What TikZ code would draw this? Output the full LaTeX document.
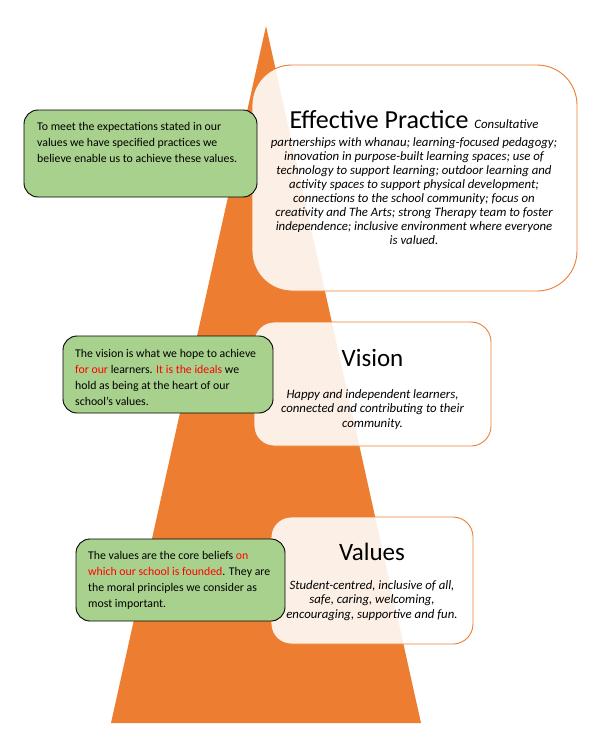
\documentclass[tikz,border=0pt]{standalone}
\usepackage{fontspec}
\setmainfont{Carlito}
\definecolor{orng}{HTML}{ED7D31}
\definecolor{grn}{HTML}{A9D18E}
\definecolor{redtxt}{HTML}{FF0000}
\newcommand{\rd}[1]{\textcolor{redtxt}{#1}}
\tikzset{
  whitebox/.style={draw=orng, line width=0.9pt, fill=white, fill opacity=0.88, text opacity=1},
  greenbox/.style={draw=black, line width=0.9pt, fill=grn, rounded corners=14pt},
  gtext/.style={anchor=base west, inner sep=0pt, align=left, font=\fontsize{11.8}{16}\selectfont},
  btext/.style={anchor=base, inner sep=0pt, align=center, font=\fontsize{12.8}{14.1}\selectfont\itshape},
  ttext/.style={anchor=base, inner sep=0pt, font=\fontsize{25}{30}\selectfont},
}
\begin{document}
\begin{tikzpicture}[x=1pt,y=-1pt]
\useasboundingbox (0,0) rectangle (594,736);
% pyramid
\fill[orng] (266,26) coordinate (apex) -- (421,723) coordinate (br) -- (111,723) coordinate (bl) -- cycle;
% white boxes
\draw[whitebox, rounded corners=40pt] (252,65) rectangle (577,291);
\node[inner sep=0pt, minimum width=325pt, minimum height=226pt] (ep) at (414.5,178) {};
\draw[whitebox, rounded corners=20pt] (254,322) rectangle (491,446);
\node[inner sep=0pt, minimum width=237pt, minimum height=124pt] (vi) at (372.5,384) {};
\draw[whitebox, rounded corners=20pt] (271,517) rectangle (473,644);
\node[inner sep=0pt, minimum width=202pt, minimum height=127pt] (va) at (372,580.5) {};
% texts in white boxes (base anchor = last line's baseline)
\node[anchor=base, inner sep=0pt] (eptitle) at (414,128) {\fontsize{26}{30}\selectfont Effective Practice {\fontsize{12.8}{14}\selectfont\itshape Consultative}};
\node[btext] (epbody) at (414,244.7) {partnerships with whanau; learning-focused pedagogy;\\
innovation in purpose-built learning spaces; use of\\
technology to support learning; outdoor learning and\\
activity spaces to support physical development;\\
connections to the school community; focus on\\
creativity and The Arts; strong Therapy team to foster\\
independence; inclusive environment where everyone\\
is valued.};
\node[ttext] (vititle) at (372.5,366) {Vision};
\node[btext] (vibody) at (372.5,427) {Happy and independent learners,\\
connected and contributing to their\\
community.};
\node[ttext] (vatitle) at (372,560) {Values};
\node[btext] (vabody) at (372,618) {Student-centred, inclusive of all,\\
safe, caring, welcoming,\\
encouraging, supportive and fun.};
% green boxes
\draw[greenbox] (24,110) rectangle (257,197);
\node[inner sep=0pt, minimum width=233pt, minimum height=87pt] (g1) at (140.5,153.5) {};
\node[gtext] (g1t) at (37,162) {To meet the expectations stated in our\\
values we have specified practices we\\
believe enable us to achieve these values.};
\draw[greenbox] (63,336) rectangle (273,413);
\node[inner sep=0pt, minimum width=210pt, minimum height=77pt] (g2) at (168,374.5) {};
\node[gtext] (g2t) at (75,405) {The vision is what we hope to achieve\\
\rd{for our} learners. \rd{It is the ideals} we\\
hold as being at the heart of our\\
school’s values.};
\draw[greenbox] (76,539) rectangle (285,621);
\node[inner sep=0pt, minimum width=209pt, minimum height=82pt] (g3) at (180.5,580) {};
\node[gtext] (g3t) at (88,607) {The values are the core beliefs \rd{on}\\
\rd{which our school is founded}. They are\\
the moral principles we consider as\\
most important.};
\end{tikzpicture}
\end{document}
